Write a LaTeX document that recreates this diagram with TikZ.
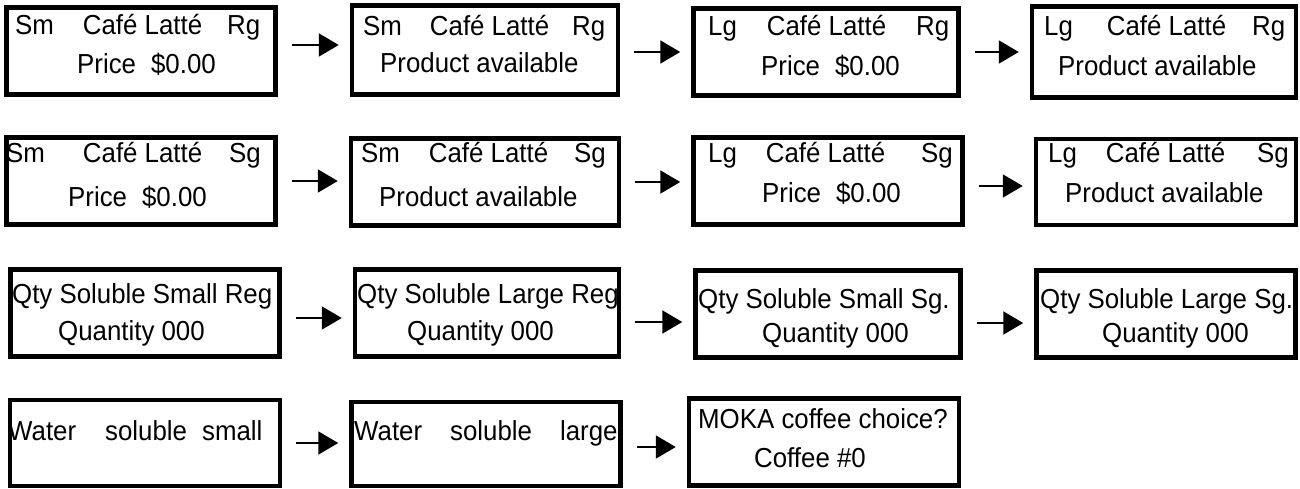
\documentclass[tikz,border=0pt]{standalone}
\usepackage{fontspec}
\setmainfont{Liberation Sans}[FakeStretch=0.94]
\usetikzlibrary{arrows.meta}

\begin{document}
\begin{tikzpicture}[x=1pt,y=-1pt,
    scr/.style={draw,line width=4.5pt,inner sep=0pt},
    txt/.style={font=\fontsize{27.5}{32}\selectfont,inner sep=0pt,anchor=base west},
    arr/.style={line width=2pt,-{Triangle[length=20pt,width=23pt]},shorten <=14pt,shorten >=11pt}]
    \useasboundingbox (0,0) rectangle (1300,489);

    % row 1
    \node[scr,minimum width=269pt,minimum height=87pt] (B11) at (141,51) {};
    \node[scr,minimum width=266pt,minimum height=89pt] (B12) at (485,50) {};
    \node[scr,minimum width=265pt,minimum height=87pt] (B13) at (826,52) {};
    \node[scr,minimum width=264pt,minimum height=91pt] (B14) at (1164,52) {};
    \node[txt] (B11a) at (15,35) {Sm\hspace{29pt}Café Latté\hspace{25pt}Rg};
    \node[txt] (B11b) at (77,74) {Price\hspace{15pt}\$0.00};
    \node[txt] (B12a) at (363,36) {Sm\hspace{28pt}Café Latté\hspace{23pt}Rg};
    \node[txt] (B12b) at (380,73) {Product available};
    \node[txt] (B13a) at (708,36) {Lg\hspace{30pt}Café Latté\hspace{30pt}Rg};
    \node[txt] (B13b) at (761,76) {Price\hspace{15pt}\$0.00};
    \node[txt] (B14a) at (1044,36) {Lg\hspace{34pt}Café Latté\hspace{26pt}Rg};
    \node[txt] (B14b) at (1058,76) {Product available};
    \draw[arr] ([yshift=6pt]B11.east) -- ([yshift=6pt]B11.east -| B12.west);
    \draw[arr] ([yshift=-2pt]B12.east) -- ([yshift=-2pt]B12.east -| B13.west);
    \draw[arr] (B13.east) -- (B13.east -| B14.west);

    % row 2
    \node[scr,minimum width=269pt,minimum height=87pt] (B21) at (141,181) {};
    \node[scr,minimum width=268pt,minimum height=87pt] (B22) at (485,182) {};
    \node[scr,minimum width=269pt,minimum height=87pt] (B23) at (828,181) {};
    \node[scr,minimum width=260pt,minimum height=86pt] (B24) at (1166,182) {};
    \node[txt] (B21a) at (6,163) {Sm\hspace{38pt}Café Latté\hspace{27pt}Sg};
    \node[txt] (B21b) at (68,207) {Price\hspace{15pt}\$0.00};
    \node[txt] (B22a) at (361,163) {Sm\hspace{29pt}Café Latté\hspace{26pt}Sg};
    \node[txt] (B22b) at (379,206) {Product available};
    \node[txt] (B23a) at (708,163) {Lg\hspace{29pt}Café Latté\hspace{36pt}Sg};
    \node[txt] (B23b) at (762,203) {Price\hspace{15pt}\$0.00};
    \node[txt] (B24a) at (1048,163) {Lg\hspace{29pt}Café Latté\hspace{32pt}Sg};
    \node[txt] (B24b) at (1065,203) {Product available};
    \draw[arr] (B21.east) -- (B21.east -| B22.west);
    \draw[arr] (B22.east) -- (B22.east -| B23.west);
    \draw[arr] ([yshift=-5pt]B23.east) -- ([yshift=-5pt]B23.east -| B24.west);

    % row 3
    \node[scr,minimum width=269pt,minimum height=87pt] (B31) at (145,313) {};
    \node[scr,minimum width=264pt,minimum height=87pt] (B32) at (487,313) {};
    \node[scr,minimum width=265pt,minimum height=87pt] (B33) at (828,314) {};
    \node[scr,minimum width=259pt,minimum height=87pt] (B34) at (1166,314) {};
    \node[txt] (B31a) at (12,303) {Qty Soluble Small Reg};
    \node[txt] (B31b) at (58,340) {Quantity 000};
    \node[txt] (B32a) at (357,303) {Qty Soluble Large Reg};
    \node[txt] (B32b) at (407,340) {Quantity 000};
    \node[txt] (B33a) at (698,308) {Qty Soluble Small Sg.};
    \node[txt] (B33b) at (762,342) {Quantity 000};
    \node[txt] (B34a) at (1040,308) {Qty Soluble Large Sg.};
    \node[txt] (B34b) at (1102,342) {Quantity 000};
    \draw[arr] ([yshift=-5pt]B31.east) -- ([yshift=-5pt]B31.east -| B32.west);
    \draw[arr] ([yshift=-9pt]B32.east) -- ([yshift=-9pt]B32.east -| B33.west);
    \draw[arr] ([yshift=-9pt]B33.east) -- ([yshift=-9pt]B33.east -| B34.west);

    % row 4
    \node[scr,minimum width=270pt,minimum height=86pt] (B41) at (145,443) {};
    \node[scr,minimum width=269pt,minimum height=84pt] (B42) at (486,444) {};
    \node[scr,minimum width=270pt,minimum height=87pt] (B43) at (824,442) {};
    \node[txt] (B41a) at (8,440) {Water\hspace{29pt}soluble\hspace{15pt}small};
    \node[txt] (B42a) at (354,440) {Water\hspace{28pt}soluble\hspace{28pt}large};
    \node[txt] (B43a) at (698,428) {MOKA coffee choice?};
    \node[txt] (B43b) at (754,467) {Coffee \#0};
    \draw[arr] (B41.east) -- (B41.east -| B42.west);
    \draw[arr] ([yshift=-3pt]B42.east) -- ([yshift=-3pt]B42.east -| B43.west);
\end{tikzpicture}
\end{document}
